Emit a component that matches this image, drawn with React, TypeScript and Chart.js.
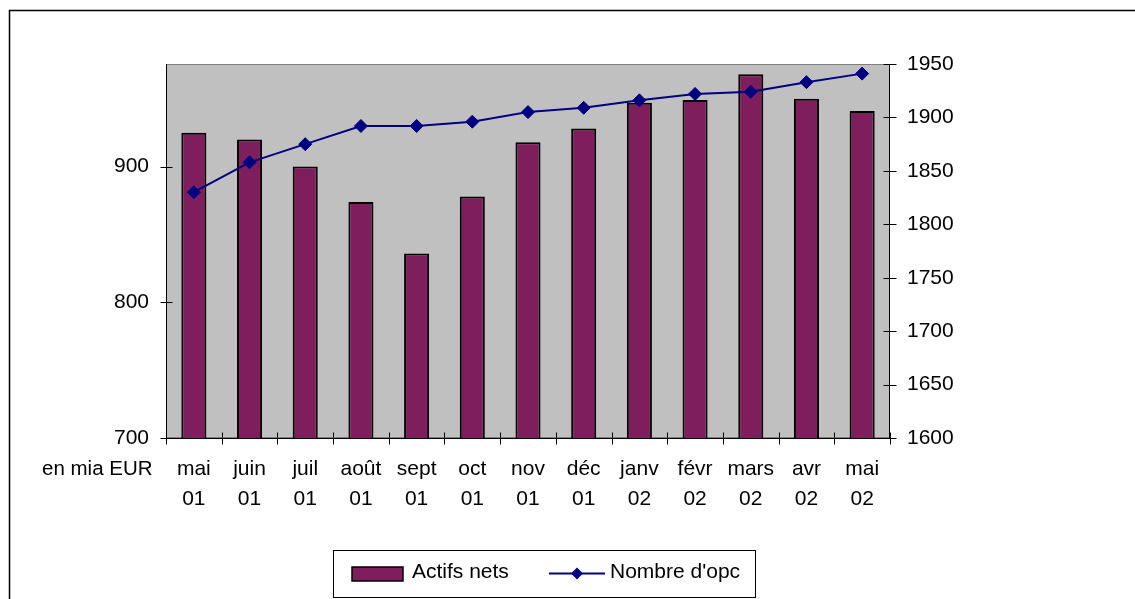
import React, { useEffect, useRef } from "react";
import { Chart, registerables } from "chart.js";

Chart.register(...registerables);

const categories: string[][] = [
  ["mai", "01"], ["juin", "01"], ["juil", "01"], ["août", "01"], ["sept", "01"],
  ["oct", "01"], ["nov", "01"], ["déc", "01"], ["janv", "02"], ["févr", "02"],
  ["mars", "02"], ["avr", "02"], ["mai", "02"],
];
const actifsNets: number[] = [925, 920, 900, 874, 836, 878, 918, 928, 947, 949, 968, 950, 941];
const nombreOpc: number[] = [1830, 1858, 1875, 1892, 1892, 1896, 1905, 1909, 1916, 1922, 1924, 1933, 1941];
const leftTicks: number[] = [700, 800, 900];
const rightTicks: number[] = [1600, 1650, 1700, 1750, 1800, 1850, 1900, 1950];
const seriesNames: string[] = ["Actifs nets", "Nombre d'opc"];
const unitLabel = "en mia EUR";

const FONT = "'Liberation Sans', Arial, sans-serif";
const FS = 21;
const BAR_COLOR = "#7E1E5C";
const LINE_COLOR = "#000080";
const PLOT_BG = "#C0C0C0";

const decorPlugin = {
  id: "decor",
  beforeDraw(chart: any) {
    const { ctx, chartArea } = chart;
    const { left, top, right, bottom } = chartArea;
    ctx.save();
    ctx.fillStyle = "#ffffff";
    ctx.fillRect(0, 0, chart.width, chart.height);
    ctx.fillStyle = PLOT_BG;
    ctx.fillRect(left, top, right - left, bottom - top);
    ctx.strokeStyle = "#808080";
    ctx.lineWidth = 1;
    ctx.strokeRect(left + 0.5, top + 0.5, right - left - 1, bottom - top - 1);
    // outer frame
    ctx.strokeStyle = "#000000";
    ctx.lineWidth = 1.5;
    ctx.beginPath();
    ctx.moveTo(9.5, chart.height + 2);
    ctx.lineTo(9.5, 10.5);
    ctx.lineTo(chart.width + 2, 10.5);
    ctx.stroke();
    ctx.restore();
  },
  afterDraw(chart: any) {
    const { ctx, chartArea, scales } = chart;
    const { left, top, right, bottom } = chartArea;
    const yl = scales.yLeft;
    const yr = scales.yRight;
    const x = scales.x;
    ctx.save();
    ctx.strokeStyle = "#000000";
    ctx.lineWidth = 1;
    ctx.beginPath();
    const L = Math.round(left) + 0.5;
    const R = Math.round(right) - 0.5;
    const B = Math.round(bottom) + 0.5;
    ctx.moveTo(L, top);
    ctx.lineTo(L, B);
    ctx.moveTo(R, top);
    ctx.lineTo(R, B);
    ctx.moveTo(L, B);
    ctx.lineTo(R, B);
    leftTicks.forEach((v) => {
      const y = Math.round(yl.getPixelForValue(v)) + 0.5;
      ctx.moveTo(L - 6, y);
      ctx.lineTo(L + 6, y);
    });
    rightTicks.forEach((v) => {
      const y = Math.round(yr.getPixelForValue(v)) + 0.5;
      ctx.moveTo(R - 6, y);
      ctx.lineTo(R + 7, y);
    });
    const n = categories.length;
    for (let i = 0; i <= n; i++) {
      const px = i < n ? x.getPixelForValue(i) - (x.getPixelForValue(1) - x.getPixelForValue(0)) / 2 : right;
      const xx = Math.round(px) + 0.5;
      ctx.moveTo(xx, B - 6);
      ctx.lineTo(xx, B + 6);
    }
    ctx.stroke();

    // unit label
    ctx.fillStyle = "#000000";
    ctx.font = `20.5px ${FONT}`;
    ctx.textAlign = "left";
    ctx.textBaseline = "alphabetic";
    ctx.fillText(unitLabel, 42, 475);

    // legend
    ctx.font = `${FS}px ${FONT}`;
    ctx.lineWidth = 1;
    ctx.strokeStyle = "#000000";
    ctx.strokeRect(333.5, 550.5, 422, 47);
    ctx.fillStyle = BAR_COLOR;
    ctx.fillRect(352, 567, 51, 14);
    ctx.lineWidth = 1.5;
    ctx.strokeRect(352, 567, 51, 14);
    ctx.fillStyle = "#000000";
    ctx.fillText(seriesNames[0], 412, 578);
    ctx.strokeStyle = LINE_COLOR;
    ctx.lineWidth = 2;
    ctx.beginPath();
    ctx.moveTo(549, 573.5);
    ctx.lineTo(605, 573.5);
    ctx.stroke();
    ctx.fillStyle = LINE_COLOR;
    ctx.beginPath();
    ctx.moveTo(577, 567.5);
    ctx.lineTo(583, 573.5);
    ctx.lineTo(577, 579.5);
    ctx.lineTo(571, 573.5);
    ctx.closePath();
    ctx.fill();
    ctx.fillStyle = "#000000";
    ctx.fillText(seriesNames[1], 610, 578);
    ctx.restore();
  },
};

export default function App() {
  const canvasRef = useRef<HTMLCanvasElement | null>(null);

  useEffect(() => {
    const canvas = canvasRef.current;
    if (!canvas) return;
    const chart = new Chart(canvas, {
      type: "bar",
      data: {
        labels: categories,
        datasets: [
          {
            type: "line",
            label: seriesNames[1],
            data: nombreOpc,
            yAxisID: "yRight",
            borderColor: LINE_COLOR,
            backgroundColor: LINE_COLOR,
            borderWidth: 2,
            pointStyle: "rectRot",
            pointRadius: 6.5,
            pointBorderWidth: 1,
            pointBackgroundColor: LINE_COLOR,
            pointBorderColor: LINE_COLOR,
            tension: 0,
            order: 0,
          } as any,
          {
            type: "bar",
            label: seriesNames[0],
            data: actifsNets,
            yAxisID: "yLeft",
            backgroundColor: BAR_COLOR,
            borderColor: "#000000",
            borderWidth: 2,
            barPercentage: 0.45,
            categoryPercentage: 1,
            order: 1,
          } as any,
        ],
      },
      options: {
        responsive: false,
        animation: false,
        devicePixelRatio: 1,
        layout: { padding: { top: 64, left: 0, right: 0, bottom: 0 } },
        plugins: {
          legend: { display: false },
          tooltip: { enabled: false },
          title: { display: false },
        },
        scales: {
          x: {
            type: "category",
            grid: { display: false, drawTicks: false },
            border: { display: false },
            ticks: {
              color: "#000000",
              font: { family: FONT, size: FS, lineHeight: 1.45 },
              padding: 16,
              autoSkip: false,
              maxRotation: 0,
              minRotation: 0,
            },
            afterFit: (s: any) => {
              s.height = 161;
            },
          },
          yLeft: {
            type: "linear",
            position: "left",
            min: 700,
            max: 975.6,
            grid: { display: false, drawTicks: false },
            border: { display: false },
            afterBuildTicks: (s: any) => {
              s.ticks = leftTicks.map((v) => ({ value: v }));
            },
            ticks: {
              color: "#000000",
              font: { family: FONT, size: FS },
              padding: 17,
              callback: (v: any) => String(v),
            },
            afterFit: (s: any) => {
              s.width = 166;
            },
          },
          yRight: {
            type: "linear",
            position: "right",
            min: 1600,
            max: 1950,
            grid: { display: false, drawTicks: false },
            border: { display: false },
            afterBuildTicks: (s: any) => {
              s.ticks = rightTicks.map((v) => ({ value: v }));
            },
            ticks: {
              color: "#000000",
              font: { family: FONT, size: FS },
              padding: 17,
              callback: (v: any) => String(v),
            },
            afterFit: (s: any) => {
              s.width = 245;
            },
          },
        },
      },
      plugins: [decorPlugin],
    });
    return () => chart.destroy();
  }, []);

  return (
    <div style={{ position: "fixed", left: 0, top: 0, width: 1135, height: 599, background: "#fff" }}>
      <canvas ref={canvasRef} width={1135} height={599} style={{ display: "block", width: 1135, height: 599 }} />
    </div>
  );
}
